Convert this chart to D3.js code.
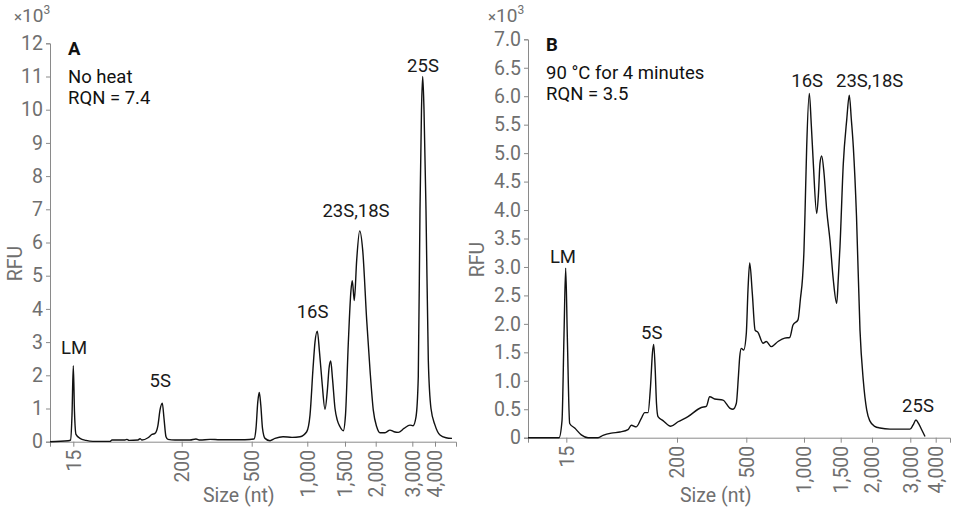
<!DOCTYPE html>
<html>
<head>
<meta charset="utf-8">
<script src="https://cdn.jsdelivr.net/npm/d3@7"></script>
<style>
  body { margin: 0; background: #fff; }
  svg { font-family: Roboto, "Open Sans", sans-serif; }
</style>
</head>
<body>
<div id="chart"></div>
<script>
// Size ladder shown on the x axis (nt) and where each size sits in migration (0-100 of run)
const sizeTicks = [15, 200, 500, 1000, 1500, 2000, 3000, 4000];
const tickTimeA = [5.74, 32.44, 49.68, 63.37, 72.66, 80.22, 89.24, 94.83];
const tickTimeB = [9.08, 35.31, 51.73, 65.4, 74.1, 81.52, 90.59, 96.61];

// Electropherogram A (no heat): migration time, RFU x10^3
const timeA = [0, 4.5, 5.05, 5.42, 5.74, 6.03, 6.4, 7.39, 8.87, 10.59, 14.78, 15.27, 18.47, 18.97, 19.46,
  21.67, 22.17, 22.66, 24.14, 25.12, 25.86, 26.6, 27.09, 27.66, 28.08, 28.57, 29.06, 30.79, 34.48, 35.96,
  36.95, 39.41, 41.87, 44.33, 48.03, 50.25, 50.74, 51.18, 51.55, 51.92, 52.34, 52.96, 54.19, 55.42, 57.39,
  59.61, 61.58, 63.23, 64.04, 64.78, 65.27, 65.84, 66.38, 67.0, 67.73, 68.35, 68.72, 69.14, 69.58, 70.2,
  70.76, 71.43, 72.24, 72.78, 73.47, 74.14, 74.46, 74.95, 75.54, 76.28, 77.02, 78.0, 78.82, 79.63, 80.47,
  81.28, 82.51, 83.74, 84.73, 85.79, 87.19, 88.67, 89.41, 90.15, 90.71, 91.13, 91.5, 91.8, 92.12, 92.61,
  93.18, 93.84, 94.83, 96.06, 97.54, 99.01];
const rfuA = [0, 0.03, 0.05, 0.8, 2.29, 0.9, 0.22, 0.1, 0.04, 0.01, 0.01, 0.05, 0.05, 0.07, 0.04,
  0.05, 0.09, 0.05, 0.12, 0.22, 0.25, 0.5, 0.95, 1.16, 0.7, 0.15, 0.07, 0.05, 0.05, 0.08,
  0.05, 0.07, 0.06, 0.06, 0.06, 0.08, 0.4, 1.2, 1.48, 1.1, 0.4, 0.1, 0.03, 0.1, 0.15,
  0.13, 0.15, 0.3, 0.8, 2.2, 3.0, 3.33, 2.7, 1.8, 0.98, 1.6, 2.2, 2.43, 1.9, 1.0,
  0.65, 0.45, 0.33, 0.8, 2.96, 4.57, 4.85, 4.25, 5.47, 6.35, 5.77, 3.67, 2.16, 0.95, 0.45,
  0.27, 0.27, 0.35, 0.3, 0.28, 0.4, 0.5, 0.48, 0.75, 1.96, 6.97, 10.0, 11.0, 10.0, 6.97,
  2.46, 1.0, 0.5, 0.2, 0.12, 0.1];

// Electropherogram B (90 °C for 4 minutes)
const timeB = [0, 7.35, 8.06, 8.53, 8.93, 9.31, 9.88, 11.07, 12.63, 14.22, 16.59, 17.77, 19.74, 21.8,
  23.7, 24.48, 25.66, 26.85, 27.65, 28.44, 29.03, 29.5, 29.79, 30.14, 30.45, 30.81, 31.99, 33.81, 35.55,
  37.91, 41.07, 42.25, 43.06, 44.24, 46.21, 47.8, 48.58, 49.36, 49.88, 50.17, 50.55, 51.11, 51.73, 52.13,
  52.54, 53.15, 53.81, 54.5, 55.69, 56.47, 57.65, 59.24, 60.83, 62.01, 62.8, 63.98, 64.57, 65.05, 65.4,
  65.64, 66.04, 66.66, 67.13, 67.61, 68.41, 68.84, 69.19, 69.6, 70.14, 70.78, 71.56, 72.35, 73.15, 73.53,
  73.93, 74.72, 75.52, 76.14, 76.61, 77.09, 77.84, 78.67, 79.45, 80.26, 80.97, 82.16, 83.41, 85.78, 90.52,
  91.23, 91.94, 92.54, 93.29, 94.08];
const rfuB = [0, 0, 0.3, 1.8, 2.98, 1.8, 0.25, 0.17, 0.05, 0, 0, 0.04, 0.08, 0.1,
  0.14, 0.22, 0.19, 0.34, 0.44, 0.44, 0.9, 1.5, 1.64, 1.2, 0.6, 0.37, 0.3, 0.2, 0.28,
  0.37, 0.53, 0.55, 0.72, 0.68, 0.66, 0.52, 0.5, 0.6, 1.1, 1.42, 1.57, 1.54, 1.83, 2.6,
  3.07, 2.54, 1.89, 1.85, 1.66, 1.69, 1.6, 1.69, 1.75, 1.76, 1.98, 2.07, 2.45, 2.8, 3.3,
  3.94, 5.11, 6.05, 5.5, 4.82, 3.94, 4.3, 4.82, 4.95, 4.65, 4.0, 3.47, 2.77, 2.36, 2.8,
  3.36, 4.82, 5.58, 6.02, 5.6, 5.11, 3.9, 1.89, 1.01, 0.49, 0.3, 0.2, 0.17, 0.15, 0.15,
  0.22, 0.31, 0.25, 0.14, 0.02];

// Peak labels: text, migration time, RFU where the label sits
const peakNames = ["LM", "5S", "16S", "23S,18S", "25S"];
const peakTimeA = [5.91, 27.17, 64.66, 75.37, 91.87];
const peakRfuA = [2.63, 1.66, 3.72, 6.76, 11.14];
const peakTimeB = [8.29, 29.34, 66.16, 80.97, 92.42];
const peakRfuB = [3.07, 1.73, 6.16, 6.16, 0.45];

const svg = d3.select("#chart").append("svg")
  .attr("width", 958).attr("height", 508);

const grey = "#6f6f6f";

function drawPanel(p) {
  const g = svg.append("g").attr("transform", "translate(" + p.left + ",0)");

  const x = d3.scaleLinear().domain([0, 100]).range([0, p.width]);
  const y = d3.scaleLinear().domain([0, p.yMax]).range([p.bottom, p.top]);

  // y axis
  const yAxis = g.append("g")
    .call(d3.axisLeft(y).tickValues(p.yTicks).tickFormat(p.yFormat).tickSize(4).tickPadding(3));
  // x axis
  const xAxis = g.append("g")
    .attr("transform", "translate(0," + p.bottom + ")")
    .call(d3.axisBottom(x).tickValues(p.tickTime).tickSize(5)
      .tickFormat((d, i) => d3.format(",")(sizeTicks[i])));
  xAxis.selectAll("text")
    .attr("transform", "rotate(-90)")
    .attr("text-anchor", "end")
    .attr("x", -8).attr("y", 0).attr("dy", "0.35em");

  [xAxis, yAxis].forEach(a => {
    a.select(".domain").attr("stroke", "#8a8a8a");
    a.selectAll(".tick line").attr("stroke", "#8a8a8a");
    a.selectAll("text").attr("font-size", 19.5).attr("fill", grey).attr("font-family", "Roboto");
  });

  // trace
  const pts = p.time.map((t, i) => [t, p.rfu[i]]);
  g.append("path")
    .datum(pts)
    .attr("fill", "none")
    .attr("stroke", "#111")
    .attr("stroke-width", 1.4)
    .attr("stroke-linejoin", "round")
    .attr("d", d3.line().x(d => x(d[0])).y(d => y(d[1])).curve(d3.curveMonotoneX));

  // peak labels
  peakNames.forEach((n, i) => {
    g.append("text")
      .attr("x", x(p.peakTime[i])).attr("y", y(p.peakRfu[i]))
      .attr("text-anchor", "middle").attr("font-size", 18.5).attr("fill", "#1a1a1a")
      .text(n);
  });

  // multiplier
  const m = g.append("text").attr("x", p.multX).attr("y", 22).attr("font-size", 19).attr("fill", grey);
  m.append("tspan").attr("font-size", 15).text("×");
  m.append("tspan").text("10");
  m.append("tspan").attr("font-size", 12).attr("dy", -8).text("3");

  // axis titles
  g.append("text")
    .attr("transform", "translate(" + p.rfuX + "," + ((p.top + p.bottom) / 2 + 21) + ") rotate(-90)")
    .attr("text-anchor", "middle").attr("font-size", 19.5).attr("fill", grey)
    .text("RFU");
  g.append("text")
    .attr("x", p.width * p.sizeAt).attr("y", 502)
    .attr("text-anchor", "middle").attr("font-size", 19.5).attr("fill", grey)
    .text("Size (nt)");

  // panel letter + notes
  g.append("text").attr("x", 18).attr("y", p.top + 12).attr("font-size", 18.5)
    .attr("font-weight", "bold").attr("fill", "#111").text(p.letter);
  p.notes.forEach((s, i) => {
    g.append("text").attr("x", 18).attr("y", p.top + 40 + i * 20.5).attr("font-size", 18.5)
      .attr("fill", "#111").text(s);
  });
}

drawPanel({
  left: 50, width: 406, top: 43.3, bottom: 441.7, yMax: 12,
  yTicks: d3.range(0, 13, 1), yFormat: d3.format("d"),
  tickTime: tickTimeA, time: timeA, rfu: rfuA,
  peakTime: peakTimeA, peakRfu: peakRfuA,
  multX: -36, rfuX: -28, sizeAt: 0.465,
  letter: "A", notes: ["No heat", "RQN = 7.4"]
});

drawPanel({
  left: 528, width: 422, top: 39.3, bottom: 437.7, yMax: 7,
  yTicks: d3.range(0, 7.01, 0.5), yFormat: d => d === 0 ? "0" : d3.format(".1f")(d),
  tickTime: tickTimeB, time: timeB, rfu: rfuB,
  peakTime: peakTimeB, peakRfu: peakRfuB,
  multX: -40, rfuX: -44, sizeAt: 0.445,
  letter: "B", notes: ["90 °C for 4 minutes", "RQN = 3.5"]
});
</script>
</body>
</html>
